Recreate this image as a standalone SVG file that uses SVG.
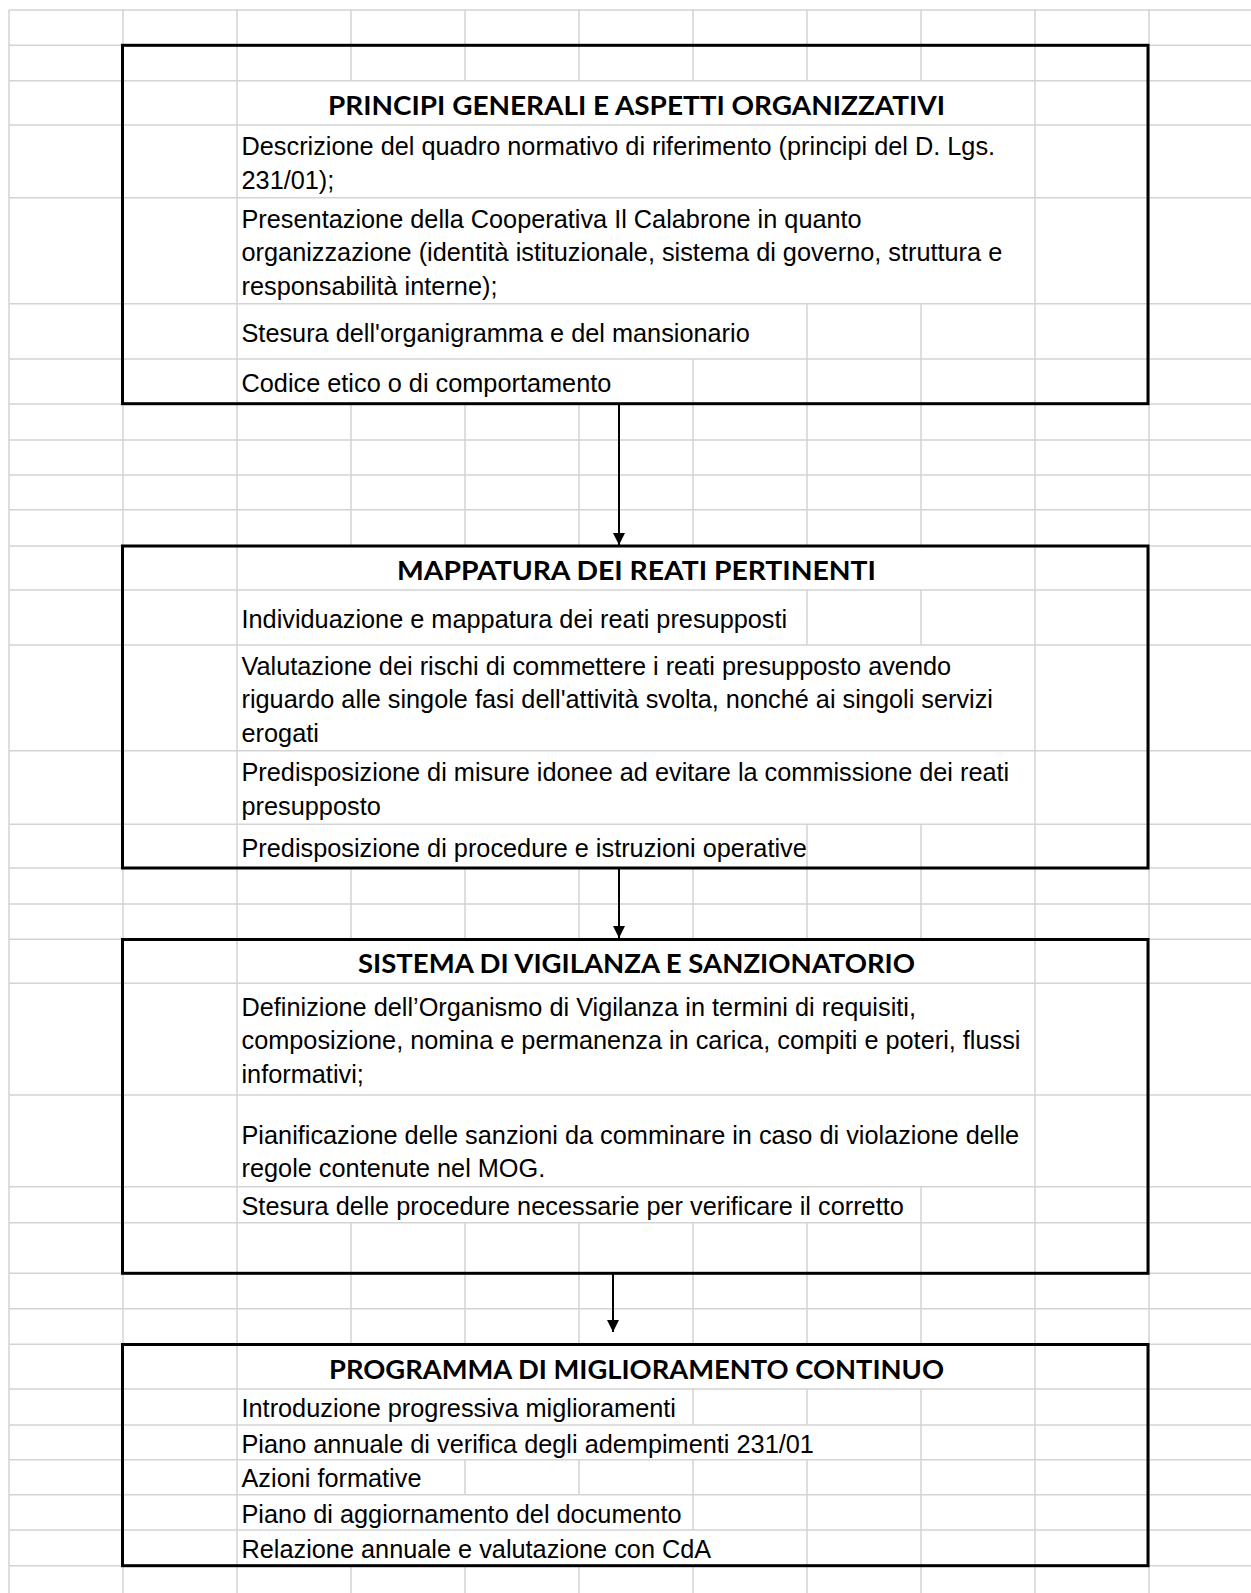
<svg xmlns="http://www.w3.org/2000/svg" width="1251" height="1593" viewBox="0 0 1251 1593">
<defs>
<style>
.g{stroke:#d4d4d4;stroke-width:1.5;fill:none}
.box{fill:none;stroke:#000;stroke-width:3}
.t{font-family:"Liberation Sans",Arial,sans-serif;font-size:25.3px;fill:#000}
.h{font-family:Lato,"Liberation Sans",sans-serif;font-weight:bold;font-size:26px;fill:#000;text-anchor:middle}
.c{stroke:#000;stroke-width:2;fill:none}
</style>
<marker id="ah" markerUnits="userSpaceOnUse" markerWidth="12" markerHeight="12" refX="12" refY="6" orient="auto">
<path d="M0,0 L12,6 L0,12 z" fill="#000"/>
</marker>
</defs>
<rect x="0" y="0" width="1251" height="1593" fill="#fff"/>
<g id="grid" class="g">
<path d="M9,10H1251M9,45.3H1251M9,80.7H1251M9,125H1251M9,197.7H1251M9,303.7H1251M9,359H1251M9,404H1251M9,440H1251M9,475H1251M9,509.7H1251M9,546H1251M9,590H1251M9,645H1251M9,750.7H1251M9,824.3H1251M9,868H1251M9,904H1251M9,939.3H1251M9,983.3H1251M9,1095H1251M9,1186.7H1251M9,1222.7H1251M9,1273.3H1251M9,1308.7H1251M9,1344.3H1251M9,1389H1251M9,1425H1251M9,1459.7H1251M9,1494.7H1251M9,1530H1251M9,1565.7H1251"/>
<path d="M9,10V1593M123,10V1593M237,10V1593M1035,10V1593M1149,10V1593"/>
<path d="M351,10V80.7M351,404V546M351,868V939.3M351,1222.7V1344.3M351,1565.7V1593"/>
<path d="M465,10V80.7M465,404V546M465,868V939.3M465,1222.7V1344.3M465,1459.7V1494.7M465,1565.7V1593"/>
<path d="M579,10V80.7M579,404V546M579,868V939.3M579,1222.7V1344.3M579,1459.7V1494.7M579,1565.7V1593"/>
<path d="M693,10V80.7M693,359V546M693,868V939.3M693,1222.7V1344.3M693,1389V1425M693,1459.7V1530M693,1565.7V1593"/>
<path d="M807,10V80.7M807,303.7V546M807,590V645M807,824.3V939.3M807,1222.7V1344.3M807,1389V1425M807,1459.7V1593"/>
<path d="M921,10V80.7M921,303.7V546M921,590V645M921,824.3V939.3M921,1186.7V1344.3M921,1389V1593"/>
</g>
<g id="connectors">
<line class="c" x1="619" y1="404" x2="619" y2="545" marker-end="url(#ah)"/>
<line class="c" x1="619" y1="868" x2="619" y2="938" marker-end="url(#ah)"/>
<line class="c" x1="613" y1="1273" x2="613" y2="1332" marker-end="url(#ah)"/>
</g>
<g id="node1">
<rect class="box" x="122.5" y="45.3" width="1025.5" height="358.4"/>
<text class="h" x="636.5" y="115" textLength="617" lengthAdjust="spacingAndGlyphs">PRINCIPI GENERALI E ASPETTI ORGANIZZATIVI</text>
<text class="t" x="241.5" y="155">Descrizione del quadro normativo di riferimento (principi del D. Lgs.</text>
<text class="t" x="241.5" y="188.5">231/01);</text>
<text class="t" x="241.5" y="227.5">Presentazione della Cooperativa Il Calabrone in quanto</text>
<text class="t" x="241.5" y="261">organizzazione (identità istituzionale, sistema di governo, struttura e</text>
<text class="t" x="241.5" y="294.5">responsabilità interne);</text>
<text class="t" x="241.5" y="341.5">Stesura dell'organigramma e del mansionario</text>
<text class="t" x="241.5" y="392">Codice etico o di comportamento</text>
</g>
<g id="node2">
<rect class="box" x="122.5" y="546" width="1025.5" height="322"/>
<text class="h" x="636.5" y="580" textLength="479" lengthAdjust="spacingAndGlyphs">MAPPATURA DEI REATI PERTINENTI</text>
<text class="t" x="241.5" y="627.5">Individuazione e mappatura dei reati presupposti</text>
<text class="t" x="241.5" y="674.5">Valutazione dei rischi di commettere i reati presupposto avendo</text>
<text class="t" x="241.5" y="708">riguardo alle singole fasi dell'attività svolta, nonché ai singoli servizi</text>
<text class="t" x="241.5" y="741.5">erogati</text>
<text class="t" x="241.5" y="781">Predisposizione di misure idonee ad evitare la commissione dei reati</text>
<text class="t" x="241.5" y="814.5">presupposto</text>
<text class="t" x="241.5" y="856.5">Predisposizione di procedure e istruzioni operative</text>
</g>
<g id="node3">
<rect class="box" x="122.5" y="939.5" width="1025.5" height="333.8"/>
<text class="h" x="636.5" y="973" textLength="557" lengthAdjust="spacingAndGlyphs">SISTEMA DI VIGILANZA E SANZIONATORIO</text>
<text class="t" x="241.5" y="1015.5">Definizione dell’Organismo di Vigilanza in termini di requisiti,</text>
<text class="t" x="241.5" y="1049">composizione, nomina e permanenza in carica, compiti e poteri, flussi</text>
<text class="t" x="241.5" y="1082.5">informativi;</text>
<text class="t" x="241.5" y="1143.5">Pianificazione delle sanzioni da comminare in caso di violazione delle</text>
<text class="t" x="241.5" y="1177">regole contenute nel MOG.</text>
<text class="t" x="241.5" y="1215">Stesura delle procedure necessarie per verificare il corretto</text>
</g>
<g id="node4">
<rect class="box" x="122.5" y="1344.5" width="1025.5" height="221.2"/>
<text class="h" x="636.5" y="1378.5" textLength="615" lengthAdjust="spacingAndGlyphs">PROGRAMMA DI MIGLIORAMENTO CONTINUO</text>
<text class="t" x="241.5" y="1417">Introduzione progressiva miglioramenti</text>
<text class="t" x="241.5" y="1452.5">Piano annuale di verifica degli adempimenti 231/01</text>
<text class="t" x="241.5" y="1487">Azioni formative</text>
<text class="t" x="241.5" y="1522.5">Piano di aggiornamento del documento</text>
<text class="t" x="241.5" y="1557.5">Relazione annuale e valutazione con CdA</text>
</g>
</svg>
